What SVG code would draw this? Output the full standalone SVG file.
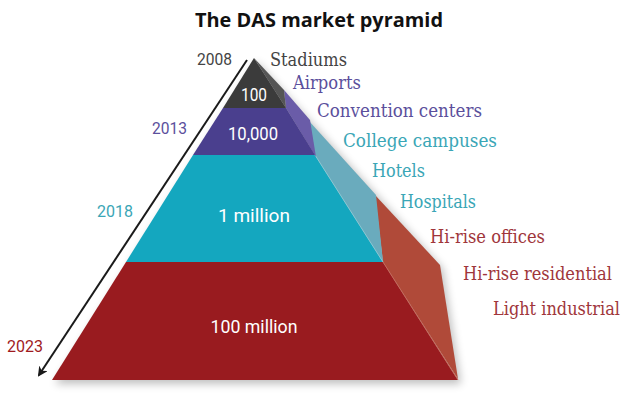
<svg xmlns="http://www.w3.org/2000/svg" width="640" height="396" viewBox="0 0 640 396">
  <defs>
    <filter id="shadow" x="-20%" y="-20%" width="140%" height="140%">
      <feGaussianBlur stdDeviation="4"/>
    </filter>
    <marker id="arrowhead" markerWidth="10" markerHeight="10" refX="8" refY="5" orient="auto" markerUnits="userSpaceOnUse" viewBox="0 0 10 10">
      <path d="M0,0 L10,5 L0,10 L3,5 Z" fill="#1a1a1a"/>
    </marker>
    <style>
      .title { font-family: "Open Sans", "Liberation Sans", sans-serif; font-weight: bold; font-size: 20px; fill: #111; }
      .inner { font-family: Roboto, "Liberation Sans", sans-serif; font-size: 17.5px; fill: #ffffff; text-anchor: middle; }
      .year { font-family: Roboto, "Liberation Sans", sans-serif; font-size: 17px; }
      .seg { font-family: "DejaVu Serif", "Liberation Serif", serif; font-size: 18.5px; }
      .gray { fill: #3b3b3b; }
      .purple { fill: #4a3f8e; }
      .cyan { fill: #14a7bf; }
      .red { fill: #991b1f; }
      .tgray { fill: #444444; }
      .tpurple { fill: #5b4f9c; }
      .tcyan { fill: #3aa6b6; }
      .tred { fill: #a0363b; }
    </style>
  </defs>
  <rect width="640" height="396" fill="#ffffff"/>
  <text class="title" x="319" y="27" text-anchor="middle" textLength="248" lengthAdjust="spacingAndGlyphs">The DAS market pyramid</text>

  <!-- soft shadow -->
  <polygon points="254,58 440,265 458,380 52,380" fill="#000" opacity="0.25" filter="url(#shadow)" transform="translate(3,4)"/>

  <g id="layer-100-million">
    <polygon points="375,195 440,265 458,379 383,262" fill="#b04a39"/>
    <polygon class="red" points="126,262 383,262 458,380 52,380"/>
    <line x1="383" y1="262" x2="458" y2="380" stroke="#c46a5c" stroke-width="1"/>
    <text class="inner" x="254" y="333" textLength="87" lengthAdjust="spacingAndGlyphs">100 million</text>
  </g>
  <g id="layer-1-million">
    <polygon points="309,121 376,195 383,262 315,155" fill="#6aabbd"/>
    <polygon class="cyan" points="193,155 315,155 383,262 126,262"/>
    <line x1="315" y1="155" x2="383" y2="262" stroke="#8cc6d2" stroke-width="1"/>
    <text class="inner" x="254" y="222" textLength="72" lengthAdjust="spacingAndGlyphs">1 million</text>
  </g>
  <g id="layer-10000">
    <polygon points="284,90 310,120 316,157 286,108" fill="#6a5ca8"/>
    <polygon class="purple" points="223,108 286,108 315,155 193,155"/>
    <text class="inner" x="253" y="140" textLength="50" lengthAdjust="spacingAndGlyphs">10,000</text>
  </g>
  <g id="layer-100">
    <polygon points="254,58 284,90 286,108" fill="#555555"/>
    <polygon class="gray" points="254,58 286,108 223,108"/>
    <text class="inner" x="254" y="101" textLength="26" lengthAdjust="spacingAndGlyphs">100</text>
  </g>

  <g id="connectors">
    <line x1="247" y1="60" x2="39" y2="375" stroke="#1a1a1a" stroke-width="2" marker-end="url(#arrowhead)"/>
  </g>

  <g id="years">
    <text class="year tgray" x="197" y="65" textLength="35" lengthAdjust="spacingAndGlyphs">2008</text>
    <text class="year tpurple" x="152" y="134" textLength="35" lengthAdjust="spacingAndGlyphs">2013</text>
    <text class="year tcyan" x="97" y="217" textLength="36" lengthAdjust="spacingAndGlyphs">2018</text>
    <text class="year" x="7" y="352" fill="#a01a1e" textLength="36" lengthAdjust="spacingAndGlyphs">2023</text>
  </g>

  <g id="segments">
    <text class="seg tgray" x="270" y="66" textLength="77" lengthAdjust="spacingAndGlyphs">Stadiums</text>
    <text class="seg tpurple" x="293" y="89" textLength="68" lengthAdjust="spacingAndGlyphs">Airports</text>
    <text class="seg tpurple" x="317" y="117" textLength="165" lengthAdjust="spacingAndGlyphs">Convention centers</text>
    <text class="seg tcyan" x="343" y="147" textLength="154" lengthAdjust="spacingAndGlyphs">College campuses</text>
    <text class="seg tcyan" x="372" y="177" textLength="53" lengthAdjust="spacingAndGlyphs">Hotels</text>
    <text class="seg tcyan" x="400" y="208" textLength="76" lengthAdjust="spacingAndGlyphs">Hospitals</text>
    <text class="seg tred" x="430" y="243" textLength="115" lengthAdjust="spacingAndGlyphs">Hi-rise offices</text>
    <text class="seg tred" x="463" y="280" textLength="149" lengthAdjust="spacingAndGlyphs">Hi-rise residential</text>
    <text class="seg tred" x="493" y="315" textLength="127" lengthAdjust="spacingAndGlyphs">Light industrial</text>
  </g>
</svg>
